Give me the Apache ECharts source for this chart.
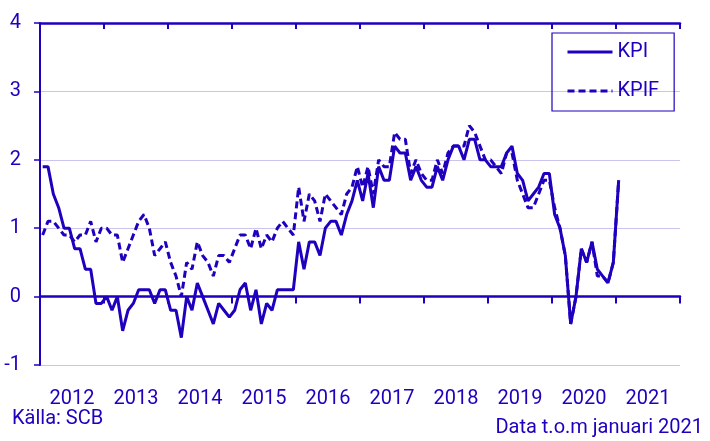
<!DOCTYPE html>
<html>
<head>
<meta charset="utf-8">
<script src="https://cdn.jsdelivr.net/npm/echarts@6/dist/echarts.min.js"></script>
<style>
html,body{margin:0;padding:0;background:#fff;}
#chart{width:710px;height:441px;}
</style>
</head>
<body>
<div id="chart"></div>
<script>
var years = ['2012','2013','2014','2015','2016','2017','2018','2019','2020','2021'];
var yTicks = [-1, 0, 1, 2, 3, 4];
// Monthly annual change (%), Jan 2012 - Jan 2021
var kpi = [
  1.9, 1.9, 1.5, 1.3, 1.0, 1.0, 0.7, 0.7, 0.4, 0.4, -0.1, -0.1,
  0.0, -0.2, 0.0, -0.5, -0.2, -0.1, 0.1, 0.1, 0.1, -0.1, 0.1, 0.1,
  -0.2, -0.2, -0.6, 0.0, -0.2, 0.2, 0.0, -0.2, -0.4, -0.1, -0.2, -0.3,
  -0.2, 0.1, 0.2, -0.2, 0.1, -0.4, -0.1, -0.2, 0.1, 0.1, 0.1, 0.1,
  0.8, 0.4, 0.8, 0.8, 0.6, 1.0, 1.1, 1.1, 0.9, 1.2, 1.4, 1.7,
  1.4, 1.8, 1.3, 1.9, 1.7, 1.7, 2.2, 2.1, 2.1, 1.7, 1.9, 1.7,
  1.6, 1.6, 1.9, 1.7, 2.0, 2.2, 2.2, 2.0, 2.3, 2.3, 2.0, 2.0,
  1.9, 1.9, 1.9, 2.1, 2.2, 1.8, 1.7, 1.4, 1.5, 1.6, 1.8, 1.8,
  1.2, 1.0, 0.6, -0.4, 0.0, 0.7, 0.5, 0.8, 0.4, 0.3, 0.2, 0.5,
  1.7
];
var kpif = [
  0.9, 1.1, 1.1, 1.0, 0.9, 0.9, 0.8, 0.9, 0.9, 1.1, 0.8, 1.0,
  1.0, 0.9, 0.9, 0.5, 0.7, 0.9, 1.1, 1.2, 1.0, 0.6, 0.7, 0.8,
  0.5, 0.3, 0.0, 0.5, 0.4, 0.8, 0.6, 0.5, 0.3, 0.6, 0.6, 0.5,
  0.7, 0.9, 0.9, 0.7, 1.0, 0.7, 0.9, 0.8, 1.0, 1.1, 1.0, 0.9,
  1.6, 1.1, 1.5, 1.4, 1.1, 1.5, 1.4, 1.3, 1.2, 1.5, 1.6, 1.9,
  1.6, 1.9, 1.5, 2.0, 1.9, 1.9, 2.4, 2.3, 2.3, 1.8, 2.0, 1.8,
  1.7, 1.7, 2.0, 1.8, 2.1, 2.2, 2.2, 2.2, 2.5, 2.4, 2.2, 2.0,
  2.0, 1.9, 1.8, 2.1, 2.1, 1.7, 1.5, 1.3, 1.3, 1.5, 1.7, 1.7,
  1.3, 1.0, 0.6, -0.4, 0.0, 0.7, 0.5, 0.8, 0.3, 0.3, 0.2, 0.5,
  1.7
];
var seriesNames = ['KPI', 'KPIF'];
var sourceText = 'Källa: SCB';
var dataNote = 'Data t.o.m januari 2021';

var BLUE = '#1e00be';
var GRID = '#c9c5ee';
var FONT = 'Roboto';

function toPoints(arr) {
  return arr.map(function (v, i) { return [i + 0.5, v]; });
}

var chart = echarts.init(document.getElementById('chart'), null, {renderer: 'canvas'});
chart.setOption({
  animation: false,
  backgroundColor: '#ffffff',
  textStyle: {fontFamily: FONT, color: BLUE},
  grid: {left: 40, right: 30, top: 23, bottom: 76, containLabel: false},
  title: [
    {text: sourceText, left: 7, top: 402, padding: 5, textStyle: {fontFamily: FONT, fontSize: 20, fontWeight: 'normal', color: BLUE, lineHeight: 24}},
    {text: dataNote, right: 2, top: 411, padding: 5, textStyle: {fontFamily: FONT, fontSize: 20, fontWeight: 'normal', color: BLUE, lineHeight: 24}}
  ],
  legend: {
    orient: 'vertical',
    left: 552, top: 33,
    padding: [9, 15, 10, 14],
    borderColor: BLUE, borderWidth: 1.2,
    itemWidth: 45, itemHeight: 20, itemGap: 19,
    itemStyle: {opacity: 0},
    lineStyle: {width: 3},
    textStyle: {fontFamily: FONT, fontSize: 20, color: BLUE},
    data: seriesNames
  },
  xAxis: [
    {
      type: 'value', min: 0, max: 120, interval: 12,
      axisLine: {show: true, onZero: true, lineStyle: {color: BLUE, width: 2.5}},
      axisTick: {show: true, inside: false, length: 7, lineStyle: {color: BLUE, width: 2}},
      axisLabel: {show: false}, splitLine: {show: false}
    },
    {
      type: 'value', min: 0, max: 120, interval: 12, position: 'top',
      axisLine: {show: true, onZero: true, lineStyle: {color: BLUE, width: 2.5}},
      axisTick: {show: true, inside: true, length: 6, lineStyle: {color: BLUE, width: 2}},
      axisLabel: {show: false}, splitLine: {show: false}
    },
    {
      type: 'category', data: years, position: 'bottom', boundaryGap: true,
      axisLine: {show: false, onZero: false},
      axisTick: {show: false},
      axisLabel: {show: true, margin: 24, fontFamily: FONT, fontSize: 20, color: BLUE},
      splitLine: {show: false}
    }
  ],
  yAxis: {
    type: 'value', min: yTicks[0], max: yTicks[yTicks.length - 1], interval: 1,
    axisLine: {show: true, onZero: false, lineStyle: {color: BLUE, width: 2}},
    axisTick: {show: true, length: 6, lineStyle: {color: BLUE, width: 1.5}},
    axisLabel: {margin: 19, fontFamily: FONT, fontSize: 20, color: BLUE},
    splitLine: {show: true, lineStyle: {color: GRID, width: 1}}
  },
  series: [
    {
      name: seriesNames[1], type: 'line', xAxisIndex: 0, data: toPoints(kpif),
      symbol: 'none', z: 2,
      lineStyle: {color: BLUE, width: 3, type: [7, 4]},
      itemStyle: {color: BLUE}
    },
    {
      name: seriesNames[0], type: 'line', xAxisIndex: 0, data: toPoints(kpi),
      symbol: 'none', z: 3,
      lineStyle: {color: BLUE, width: 3, type: 'solid'},
      itemStyle: {color: BLUE}
    }
  ]
});
</script>
</body>
</html>
